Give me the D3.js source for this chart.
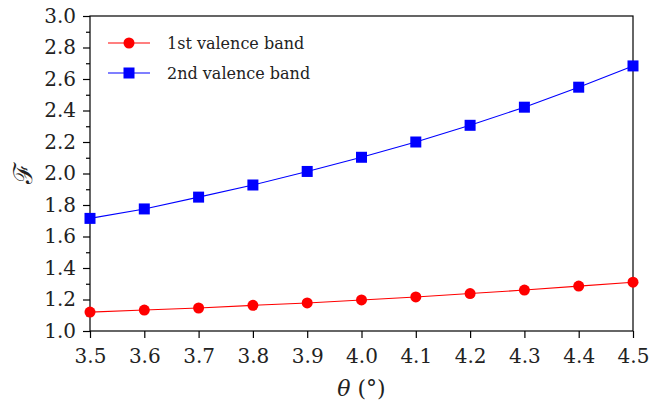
<!DOCTYPE html>
<html>
<head>
<meta charset="utf-8">
<script src="https://cdn.jsdelivr.net/npm/d3@7"></script>
<style>
  body { margin: 0; background: #fff; }
  svg text { font-family: 'DejaVu Serif', serif !important; }
  .axis text { font-size: 20px; fill: #222; }
  .axis path, .axis line { stroke: #000; stroke-width: 1.2; }
</style>
</head>
<body>
<div id="chart"></div>
<script>
// data
const theta = [3.5, 3.6, 3.7, 3.8, 3.9, 4.0, 4.1, 4.2, 4.3, 4.4, 4.5];
const band1 = [1.12, 1.133, 1.146, 1.163, 1.178, 1.197, 1.216, 1.238, 1.26, 1.285, 1.31];
const band2 = [1.715, 1.775, 1.85, 1.927, 2.013, 2.103, 2.2, 2.306, 2.421, 2.548, 2.683];
const xTicks = [3.5, 3.6, 3.7, 3.8, 3.9, 4.0, 4.1, 4.2, 4.3, 4.4, 4.5];
const yTicks = [1.0, 1.2, 1.4, 1.6, 1.8, 2.0, 2.2, 2.4, 2.6, 2.8, 3.0];
const yMinor = d3.range(1.1, 3.0, 0.2);
const seriesNames = ['1st valence band', '2nd valence band'];

const width = 649, height = 405;
const margin = { top: 16, right: 16, bottom: 74, left: 90 };
const innerW = width - margin.left - margin.right;
const innerH = height - margin.top - margin.bottom;

const svg = d3.select('#chart').append('svg')
    .attr('width', width)
    .attr('height', height);

const chart = svg.append('g')
    .attr('transform', `translate(${margin.left}, ${margin.top})`);

const x = d3.scaleLinear().domain([3.5, 4.5]).range([0, innerW]);
const y = d3.scaleLinear().domain([1.0, 3.0]).range([innerH, 0]);

// frame
chart.append('rect')
    .attr('width', innerW)
    .attr('height', innerH)
    .attr('fill', 'none')
    .attr('stroke', '#000')
    .attr('stroke-width', 1.2);

const xAxis = chart.append('g')
    .attr('class', 'axis')
    .attr('transform', `translate(0, ${innerH})`)
    .call(d3.axisBottom(x).tickValues(xTicks).tickFormat(d3.format('.1f')).tickSize(7).tickPadding(11));
xAxis.select('.domain').remove();

const yAxis = chart.append('g')
    .attr('class', 'axis')
    .call(d3.axisLeft(y).tickValues(yTicks).tickFormat(d3.format('.1f')).tickSize(7).tickPadding(7));
yAxis.select('.domain').remove();

chart.append('g')
    .attr('class', 'axis')
    .call(d3.axisLeft(y).tickValues(yMinor).tickFormat('').tickSize(4))
    .select('.domain').remove();

const line = d3.line()
    .x((d, i) => x(theta[i]))
    .y(d => y(d));

// 1st band
chart.append('path')
    .datum(band1)
    .attr('d', line)
    .attr('fill', 'none')
    .attr('stroke', '#ff0000')
    .attr('stroke-width', 1.1);

chart.selectAll('.pt1')
    .data(band1)
    .enter().append('circle')
    .attr('class', 'pt1')
    .attr('cx', (d, i) => x(theta[i]))
    .attr('cy', d => y(d))
    .attr('r', 5.5)
    .attr('fill', '#ff0000');

// 2nd band
chart.append('path')
    .datum(band2)
    .attr('d', line)
    .attr('fill', 'none')
    .attr('stroke', '#0000ff')
    .attr('stroke-width', 1.1);

const sq = 11;
chart.selectAll('.pt2')
    .data(band2)
    .enter().append('rect')
    .attr('class', 'pt2')
    .attr('x', (d, i) => x(theta[i]) - sq / 2)
    .attr('y', d => y(d) - sq / 2)
    .attr('width', sq)
    .attr('height', sq)
    .attr('fill', '#0000ff');

// legend
const legend = chart.append('g')
    .attr('transform', 'translate(18, 27)');

const colors = ['#ff0000', '#0000ff'];
seriesNames.forEach((name, i) => {
    const g = legend.append('g').attr('transform', `translate(0, ${i * 30})`);
    g.append('line')
        .attr('x1', 0).attr('x2', 42)
        .attr('stroke', colors[i])
        .attr('stroke-width', 1.1);
    if (i === 0) {
        g.append('circle').attr('cx', 21).attr('r', 5.5).attr('fill', colors[i]);
    } else {
        g.append('rect').attr('x', 21 - sq / 2).attr('y', -sq / 2)
            .attr('width', sq).attr('height', sq).attr('fill', colors[i]);
    }
    g.append('text')
        .attr('x', 59)
        .attr('y', 6)
        .attr('font-size', 16)
        .attr('fill', '#222')
        .text(name);
});

// axis titles
svg.append('text')
    .attr('x', margin.left + innerW / 2)
    .attr('y', 396)
    .attr('text-anchor', 'middle')
    .attr('font-size', 22)
    .attr('fill', '#222')
    .html('<tspan font-style="italic">θ</tspan> (°)');

svg.append('text')
    .attr('transform', `translate(32, ${margin.top + innerH / 2}) rotate(-90)`)
    .attr('text-anchor', 'middle')
    .attr('font-size', 26)
    .attr('fill', '#222')
    .text('ℱ');
</script>
</body>
</html>
